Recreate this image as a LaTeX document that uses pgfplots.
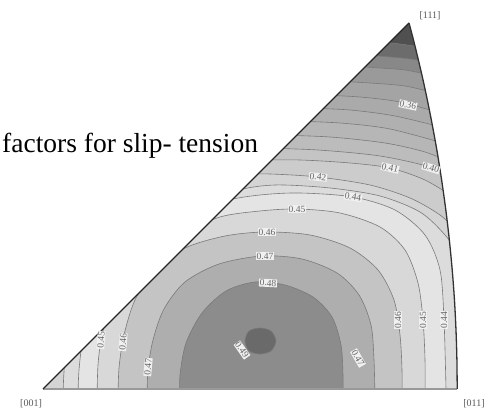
\documentclass[border=0pt]{standalone}
\usepackage{fontspec}
\setmainfont{Liberation Serif}
\usepackage{pgfplots}
\pgfplotsset{compat=1.18}

% grey levels of the filled bands (value >= level)
\definecolor{c31}{HTML}{505050}
\definecolor{c32}{HTML}{6C6C6C}
\definecolor{c33}{HTML}{888888}
\definecolor{c34}{HTML}{9A9A9A}
\definecolor{c35}{HTML}{A4A4A4}
\definecolor{c36}{HTML}{AAAAAA}
\definecolor{c37}{HTML}{B0B0B0}
\definecolor{c38}{HTML}{B6B6B6}
\definecolor{c39}{HTML}{BCBCBC}
\definecolor{c40}{HTML}{C4C4C4}
\definecolor{c41}{HTML}{CCCCCC}
\definecolor{c42}{HTML}{D4D4D4}
\definecolor{c43}{HTML}{DCDCDC}
\definecolor{c44}{HTML}{E4E4E4}
\definecolor{c45}{HTML}{D8D8D8}
\definecolor{c46}{HTML}{C4C4C4}
\definecolor{c47}{HTML}{AEAEAE}
\definecolor{c48}{HTML}{8C8C8C}
\definecolor{c49}{HTML}{6A6A6A}
\definecolor{cline}{HTML}{7A7A7A}

\tikzset{
  band/.style={fill=#1, draw=cline, line width=0.6pt, smooth},
  lab/.style={font=\fontsize{9.5}{9.5}\selectfont, text=black!60,
              fill=white!94!black, inner sep=0.7pt},
}

\begin{document}
\begin{tikzpicture}
\useasboundingbox (0,0) rectangle (490pt,417pt);
% coordinates: stereographic projection x 1000, [001] at origin
\begin{axis}[
  at={(0pt,0pt)}, anchor=south west,
  scale only axis, width=490pt, height=417pt,
  xmin=-43, xmax=447, ymin=-28, ymax=389,
  hide axis, clip=true,
]
% lowest level (around [111])
\addplot[fill=c31, draw=none] coordinates {(-120,-60) (520,-60) (520,420) (-120,420)} -- cycle;

% contour lines crossing the triangle from the [001]-[111] edge to the arc
\addplot[band=c32] coordinates {(337,347) (357,345) (377,342)}
  -- (axis cs:520,-60) -- (axis cs:-120,-60) -- cycle;
\addplot[band=c33] coordinates {(322,334) (347,332) (367,330) (385,327)}
  -- (axis cs:520,-60) -- (axis cs:-120,-60) -- cycle;
\addplot[band=c34] coordinates {(307,323) (337,321) (362,319) (387,314)}
  -- (axis cs:520,-60) -- (axis cs:-120,-60) -- cycle;
\addplot[band=c35] coordinates {(292,308) (327,306) (362,303) (392,296)}
  -- (axis cs:520,-60) -- (axis cs:-120,-60) -- cycle;
\addplot[band=c36] coordinates {(277,294) (317,292) (357,287) (397,276)}
  -- (axis cs:520,-60) -- (axis cs:-120,-60) -- cycle;
\addplot[band=c37] coordinates {(262,281) (307,279) (352,273) (402,261)}
  -- (axis cs:520,-60) -- (axis cs:-120,-60) -- cycle;
\addplot[band=c38] coordinates {(247,268) (297,266) (347,260) (407,244)}
  -- (axis cs:520,-60) -- (axis cs:-120,-60) -- cycle;
\addplot[band=c39] coordinates {(232,254) (287,252) (342,246) (382,237) (412,225)}
  -- (axis cs:520,-60) -- (axis cs:-120,-60) -- cycle;
\addplot[band=c40] coordinates {(217,241) (275,239) (337,233) (387,222) (417,209)}
  -- (axis cs:520,-60) -- (axis cs:-120,-60) -- cycle;
\addplot[band=c41] coordinates {(202,229) (257,229) (307,226) (347,221) (382,209) (412,191)}
  -- (axis cs:520,-60) -- (axis cs:-120,-60) -- cycle;
\addplot[band=c42] coordinates {(187,215) (227,215) (275,212) (327,204) (367,191) (397,174) (419,154)}
  -- (axis cs:520,-60) -- (axis cs:-120,-60) -- cycle;

% closed contours around the maximum
\addplot[band=c43] coordinates {(20,-11) (21,17) (25,49) (52,99) (97,144) (147,179) (192,198)
  (232,204) (287,201) (337,193) (377,177) (402,154) (419,129) (432,89) (437,-11)}
  -- (axis cs:520,-60) -- (axis cs:-120,-60) -- cycle;
\addplot[band=c44] coordinates {(35,-11) (36,19) (41,54) (57,99) (92,139) (137,171) (182,188)
  (217,194) (257,196) (310,192) (352,179) (382,154) (397,119) (401,69) (403,0) (403,-11)}
  -- (axis cs:520,-60) -- (axis cs:-120,-60) -- cycle;
\addplot[band=c45] coordinates {(54,-11) (55,24) (59,54) (69,84) (97,124) (137,154) (177,172)
  (217,178) (254,180) (297,176) (337,162) (362,139) (375,106) (380,69) (382,29) (382,-11)}
  -- (axis cs:520,-60) -- (axis cs:-120,-60) -- cycle;
\addplot[band=c46] coordinates {(75,-11) (76,21) (81,54) (92,89) (112,119) (142,141) (182,153)
  (222,157) (267,154) (307,141) (335,119) (351,89) (357,54) (359,19) (359,-11)}
  -- (axis cs:520,-60) -- (axis cs:-120,-60) -- cycle;
\addplot[band=c47] coordinates {(104,-11) (105,19) (110,49) (121,80) (142,107) (176,125)
  (219,133) (259,130) (294,116) (316,94) (328,64) (331,29) (332,-11)}
  -- (axis cs:520,-60) -- (axis cs:-120,-60) -- cycle;
\addplot[band=c48] coordinates {(137,-11) (137,14) (143,46) (159,76) (183,98) (212,107)
  (242,104) (270,92) (289,72) (298,44) (300,14) (300,-11)}
  -- (axis cs:520,-60) -- (axis cs:-120,-60) -- cycle;
\addplot[fill=c49, draw=cline, line width=0.6pt, smooth cycle] coordinates {
  (202,48) (206,58) (217,61) (228,58) (233,48) (228,38) (217,35) (206,38)};

% blank everything outside the standard triangle
\addplot[fill=white, draw=none, even odd rule] coordinates {
  (-120,-60) (520,-60) (520,420) (-120,420) (-120,-60)
  (0,0) (366,366) (371.3,345.8) (379.8,310.1) (387.0,275.8) (393.2,242.7)
  (398.4,210.5) (402.8,179.2) (406.4,148.4) (409.3,118.1) (411.5,88.3)
  (413.0,58.7) (413.9,29.3) (414.2,0) (0,0) (-120,-60)} -- cycle;

% triangle edges
\addplot[draw=black!40, line width=1.2pt] coordinates {(0,0) (414.2,0)};
\addplot[draw=black!85, line width=1.4pt] coordinates {(0,0) (366,366)};
\addplot[draw=black!80, line width=1.3pt, smooth] coordinates {
  (366,366) (371.3,345.8) (379.8,310.1) (387.0,275.8) (393.2,242.7)
  (398.4,210.5) (402.8,179.2) (406.4,148.4) (409.3,118.1) (411.5,88.3)
  (413.0,58.7) (413.9,29.3) (414.2,0)};

% contour labels
\node[lab, rotate=-12] at (axis cs:365,284) {0.36};
\node[lab, rotate=-17] at (axis cs:388,221) {0.40};
\node[lab, rotate=-13] at (axis cs:347,221) {0.41};
\node[lab, rotate=-6]  at (axis cs:275,212) {0.42};
\node[lab, rotate=-10] at (axis cs:310,192) {0.44};
\node[lab]             at (axis cs:254,180) {0.45};
\node[lab]             at (axis cs:224,157) {0.46};
\node[lab]             at (axis cs:222,133) {0.47};
\node[lab, rotate=-3]  at (axis cs:225,106) {0.48};
\node[lab, rotate=-55] at (axis cs:199,39)  {0.49};
\node[lab, rotate=90]  at (axis cs:355,69)  {0.46};
\node[lab, rotate=90]  at (axis cs:380,69)  {0.45};
\node[lab, rotate=90]  at (axis cs:401,69)  {0.44};
\node[lab, rotate=-60] at (axis cs:315,31)  {0.47};
\node[lab, rotate=85]  at (axis cs:58,49)   {0.45};
\node[lab, rotate=85]  at (axis cs:80,47)   {0.46};
\node[lab, rotate=85]  at (axis cs:105,22)  {0.47};

% poles
\node[font=\fontsize{10}{10}\selectfont, text=black!65] at (axis cs:-12,-15) {[001]};
\node[font=\fontsize{10}{10}\selectfont, text=black!65] at (axis cs:431,-15) {[011]};
\node[font=\fontsize{10}{10}\selectfont, text=black!65] at (axis cs:387,373) {[111]};

\node[anchor=base west, inner sep=0pt, font=\fontsize{27.5}{30}\selectfont]
  at (axis cs:-41,236) {factors for slip- tension};
\end{axis}
\end{tikzpicture}
\end{document}
